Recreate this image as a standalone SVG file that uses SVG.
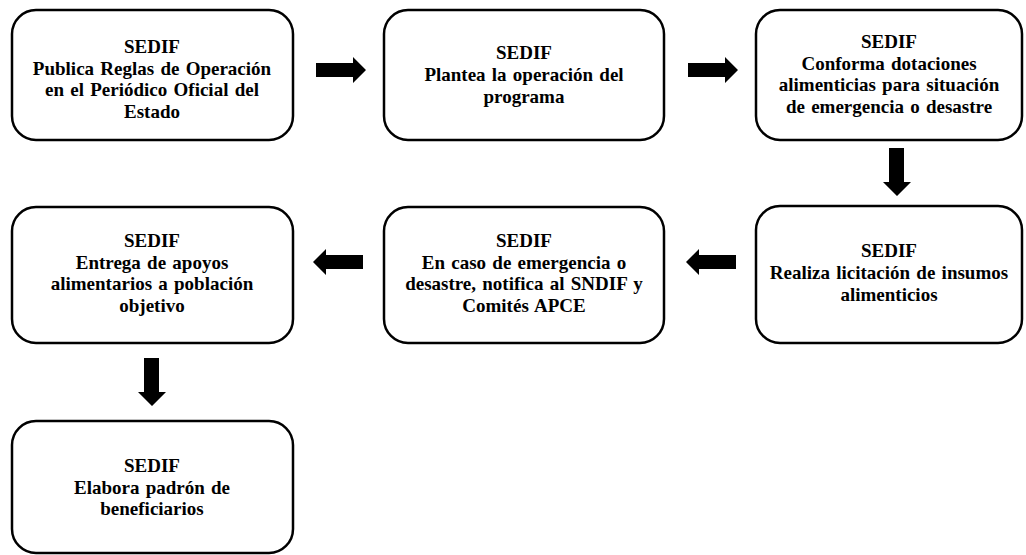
<svg xmlns="http://www.w3.org/2000/svg" width="1026" height="555" viewBox="0 0 1026 555">
<style>
.box{fill:#fff;stroke:#000;stroke-width:2.5}
.t{font-family:"Liberation Serif","Times New Roman",serif;font-weight:bold;font-size:19px;word-spacing:1.5px;text-anchor:middle;fill:#000}
.arr{fill:#000}
</style>
<rect width="1026" height="555" fill="#fff"/>
<g id="n1"><rect class="box" x="12" y="10" width="281" height="130" rx="24"/>
<text class="t"><tspan x="152" y="53">SEDIF</tspan><tspan x="152" y="74.5">Publica Reglas de Operación</tspan><tspan x="152" y="96">en el Periódico Oficial del</tspan><tspan x="152" y="117.5">Estado</tspan></text></g>
<g id="n2"><rect class="box" x="384" y="10" width="280" height="130" rx="24"/>
<text class="t"><tspan x="524" y="59">SEDIF</tspan><tspan x="524" y="81">Plantea la operación del</tspan><tspan x="524" y="103">programa</tspan></text></g>
<g id="n3"><rect class="box" x="756" y="10" width="266" height="130" rx="24"/>
<text class="t"><tspan x="889" y="48">SEDIF</tspan><tspan x="889" y="69.5">Conforma dotaciones</tspan><tspan x="889" y="91">alimenticias para situación</tspan><tspan x="889" y="112.5">de emergencia o desastre</tspan></text></g>
<g id="n4"><rect class="box" x="756" y="206" width="266" height="137" rx="24"/>
<text class="t"><tspan x="889" y="257">SEDIF</tspan><tspan x="889" y="279">Realiza licitación de insumos</tspan><tspan x="889" y="301">alimenticios</tspan></text></g>
<g id="n5"><rect class="box" x="384" y="207" width="280" height="136" rx="24"/>
<text class="t"><tspan x="524" y="247">SEDIF</tspan><tspan x="524" y="268.5">En caso de emergencia o</tspan><tspan x="524" y="290">desastre, notifica al SNDIF y</tspan><tspan x="524" y="311.5">Comités APCE</tspan></text></g>
<g id="n6"><rect class="box" x="12" y="207" width="281" height="136" rx="24"/>
<text class="t"><tspan x="152" y="247">SEDIF</tspan><tspan x="152" y="268.5">Entrega de apoyos</tspan><tspan x="152" y="290">alimentarios a población</tspan><tspan x="152" y="311.5">objetivo</tspan></text></g>
<g id="n7"><rect class="box" x="12" y="421" width="281" height="132" rx="24"/>
<text class="t"><tspan x="152" y="472">SEDIF</tspan><tspan x="152" y="493.5">Elabora padrón de</tspan><tspan x="152" y="515">beneficiarios</tspan></text></g>
<g id="connectors">
<polygon class="arr" points="316,63 353,63 353,57 366,70 353,83 353,77 316,77"/>
<polygon class="arr" points="688,63 725,63 725,57 738,70 725,83 725,77 688,77"/>
<polygon class="arr" points="889,148 904,148 904,182 911,182 897,196 883,182 889,182"/>
<polygon class="arr" points="736,255 699,255 699,249 686,262 699,275 699,269 736,269"/>
<polygon class="arr" points="363,255 326,255 326,249 313,262 326,275 326,269 363,269"/>
<polygon class="arr" points="144,358 159,358 159,392 166,392 152,406 138,392 144,392"/>
</g>
</svg>
